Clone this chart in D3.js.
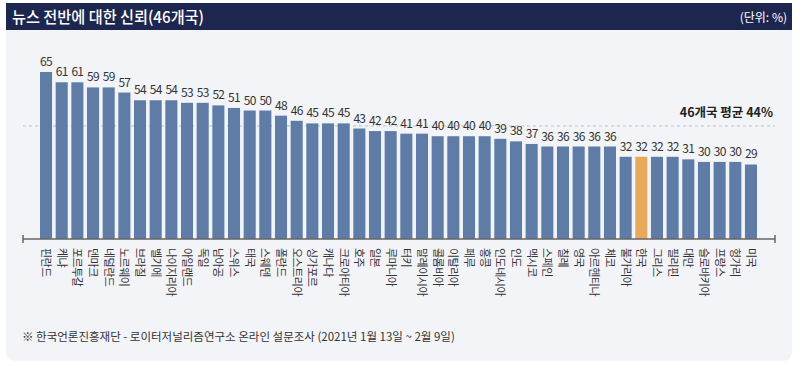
<!DOCTYPE html>
<html>
<head>
<meta charset="utf-8">
<script src="https://cdn.jsdelivr.net/npm/d3@7"></script>
<style>
  body { margin: 0; background: #ffffff; }
  svg { display: block; font-family: "Noto Sans CJK KR", "Noto Sans", sans-serif; }
</style>
</head>
<body>
<div id="chart"></div>
<script>
// Data
const countries = ['핀란드', '케냐', '포르투갈', '덴마크', '네덜란드', '노르웨이', '브라질', '벨기에',
  '나이지리아', '아일랜드', '독일', '남아공', '스위스', '태국', '스웨덴', '폴란드', '오스트리아',
  '싱가포르', '캐나다', '크로아티아', '호주', '일본', '루마니아', '터키', '말레이시아', '콜롬비아',
  '이탈리아', '페루', '홍콩', '인도네시아', '인도', '멕시코', '스페인', '칠레', '영국', '아르헨티나',
  '체코', '불가리아', '한국', '그리스', '필리핀', '대만', '슬로바키아', '프랑스', '헝가리', '미국'];
const trust = [65, 61, 61, 59, 59, 57, 54, 54, 54, 53, 53, 52, 51, 50, 50, 48, 46, 45, 45, 45,
  43, 42, 42, 41, 41, 40, 40, 40, 40, 39, 38, 37, 36, 36, 36, 36, 36, 32, 32, 32, 32, 31, 30, 30, 30, 29];
const highlight = '한국';
const averageValue = 44;
const averageLabel = '46개국 평균 44%';
const titleText = '뉴스 전반에 대한 신뢰(46개국)';
const unitText = '(단위: %)';
const sourceText = '※ 한국언론진흥재단 - 로이터저널리즘연구소 온라인 설문조사 (2021년 1월 13일 ~ 2월 9일)';

const width = 800, height = 365;
const barColor = '#5e7ca5';
const hiColor = '#e9a95a';
const textColor = '#333';

const svg = d3.select('#chart').append('svg')
  .attr('width', width)
  .attr('height', height);

// panel background with rounded bottom corners
const px0 = 6, px1 = 792, py0 = 30, py1 = 361, r = 10;
svg.append('path')
  .attr('d', `M${px0},${py0} H${px1} V${py1 - r} Q${px1},${py1} ${px1 - r},${py1} H${px0 + r} Q${px0},${py1} ${px0},${py1 - r} Z`)
  .attr('fill', '#f3f4f8');

// header bar
svg.append('rect')
  .attr('x', px0).attr('y', 3)
  .attr('width', px1 - px0).attr('height', 27)
  .attr('fill', '#1d264f');

svg.append('text')
  .attr('x', 12).attr('y', 23)
  .attr('fill', '#fff')
  .attr('font-size', 16)
  .attr('font-weight', 500)
  .attr('textLength', 192)
  .attr('lengthAdjust', 'spacingAndGlyphs')
  .text(titleText);

svg.append('text')
  .attr('x', 787).attr('y', 22)
  .attr('text-anchor', 'end')
  .attr('fill', '#fff')
  .attr('font-size', 12)
  .text(unitText);

// scales
const baseY = 239;
const x = d3.scaleBand()
  .domain(countries)
  .range([40, 757])
  .paddingInner(0.23)
  .paddingOuter(0);

const y = d3.scaleLinear()
  .domain([0, 65])
  .range([baseY, 72]);

const data = countries.map((c, i) => ({ country: c, value: trust[i] }));

// average dashed line
const axisX0 = 23, axisX1 = 775;
svg.append('line')
  .attr('x1', axisX0).attr('x2', axisX1)
  .attr('y1', y(averageValue)).attr('y2', y(averageValue))
  .attr('stroke', '#b9bdc6')
  .attr('stroke-width', 1)
  .attr('stroke-dasharray', '3,3');

svg.append('text')
  .attr('x', 773).attr('y', y(averageValue) - 9)
  .attr('text-anchor', 'end')
  .attr('fill', '#222')
  .attr('font-size', 12.5)
  .attr('font-weight', 700)
  .text(averageLabel);

// bars
svg.append('g').selectAll('rect')
  .data(data)
  .join('rect')
  .attr('x', d => x(d.country))
  .attr('y', d => y(d.value))
  .attr('width', x.bandwidth())
  .attr('height', d => baseY - y(d.value))
  .attr('fill', d => d.country === highlight ? hiColor : barColor);

// value labels
svg.append('g').selectAll('text')
  .data(data)
  .join('text')
  .attr('x', d => x(d.country) + x.bandwidth() / 2)
  .attr('y', d => y(d.value) - 6)
  .attr('text-anchor', 'middle')
  .attr('fill', textColor)
  .attr('font-size', 12)
  .attr('letter-spacing', -0.7)
  .text(d => d.value);

// baseline axis with end caps
const axis = svg.append('g').attr('stroke', '#666').attr('stroke-width', 1.5);
axis.append('line')
  .attr('x1', axisX0).attr('x2', axisX1)
  .attr('y1', baseY).attr('y2', baseY);
axis.append('line')
  .attr('x1', axisX0).attr('x2', axisX0)
  .attr('y1', baseY - 4).attr('y2', baseY + 4);
axis.append('line')
  .attr('x1', axisX1).attr('x2', axisX1)
  .attr('y1', baseY - 4).attr('y2', baseY + 4);

// country labels, rotated vertical
svg.append('g').selectAll('text')
  .data(data)
  .join('text')
  .attr('transform', d => `translate(${x(d.country) + x.bandwidth() / 2 - 4},${baseY + 9}) rotate(90)`)
  .attr('fill', textColor)
  .attr('font-size', 11)
  .attr('letter-spacing', -0.5)
  .text(d => d.country);

// source note
svg.append('text')
  .attr('x', 22).attr('y', 341)
  .attr('fill', textColor)
  .attr('font-size', 11.5)
  .text(sourceText);
</script>
</body>
</html>
